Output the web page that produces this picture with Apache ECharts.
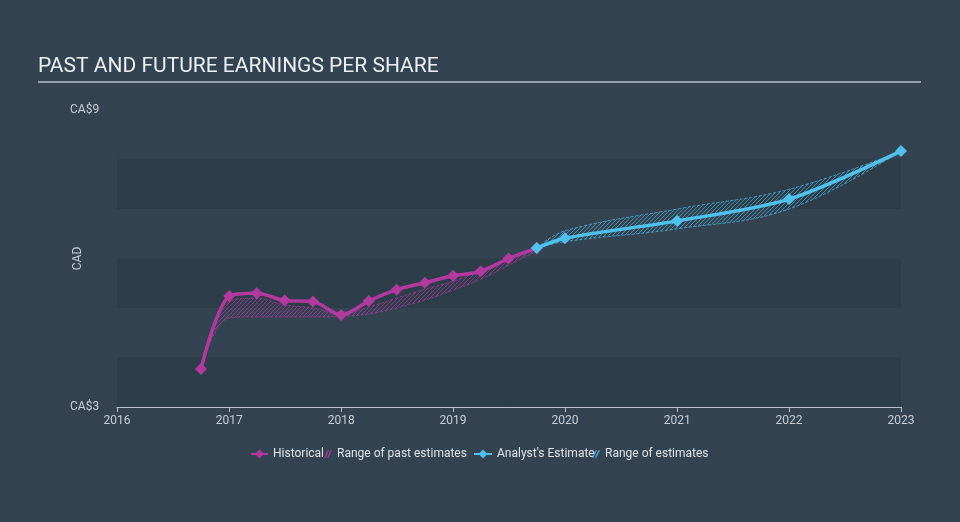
<!DOCTYPE html>
<html>
<head>
<meta charset="utf-8">
<script src="https://cdn.jsdelivr.net/npm/echarts@6/dist/echarts.min.js"></script>
<style>
html,body{margin:0;padding:0;background:#344352;}
#chart{width:960px;height:522px;}
</style>
</head>
<body>
<div id="chart"></div>
<script>
// ---- data ----
const histYears = [2016.75, 2017, 2017.25, 2017.5, 2017.75, 2018, 2018.25, 2018.5, 2018.75, 2019, 2019.25, 2019.5, 2019.75];
const histEPS   = [3.77, 5.24, 5.30, 5.15, 5.13, 4.86, 5.14, 5.37, 5.51, 5.65, 5.74, 6.00, 6.21];
const pastLow   = [3.77, 4.80, 4.82, 4.82, 4.82, 4.83, 4.88, 5.00, 5.16, 5.36, 5.58, 5.86, 6.15];
const pastHigh  = [3.77, 5.14, 5.20, 5.06, 5.00, 4.88, 5.02, 5.20, 5.38, 5.54, 5.76, 6.00, 6.21];

const estYears  = [2019.75, 2020, 2021, 2022, 2023];
const estEPS    = [6.21, 6.41, 6.76, 7.20, 8.17];
const estLow    = [6.21, 6.34, 6.60, 7.00, 8.17];
const estHigh   = [6.21, 6.56, 7.00, 7.40, 8.17];

const xTicks = [2016, 2017, 2018, 2019, 2020, 2021, 2022, 2023];
const yMin = 3, yMax = 9;

// ---- helpers ----
// decimal year -> timestamp (quarter precision)
const toTime = y => new Date(Math.floor(y), Math.round((y - Math.floor(y)) * 12), 1).getTime();
function hatch(color) {
  const c = document.createElement('canvas');
  c.width = 4; c.height = 4;
  const g = c.getContext('2d');
  g.strokeStyle = color; g.lineWidth = 1;
  g.beginPath();
  g.moveTo(0, 4); g.lineTo(4, 0);
  g.moveTo(-1, 1); g.lineTo(1, -1);
  g.moveTo(3, 5); g.lineTo(5, 3);
  g.stroke();
  return { image: c, repeat: 'repeat' };
}
const MAG = '#b3399e', BLUE = '#50c1ea';
const hatchIcon = 'path://M0,10L5,0L7,0L2,10Z M4,10L9,0L11,0L6,10Z';

const zip = (xs, ys) => xs.map((x, i) => [toTime(x), ys[i]]);
const diff = (xs, hi, lo) => xs.map((x, i) => [toTime(x), +(hi[i] - lo[i]).toFixed(3)]);

const chart = echarts.init(document.getElementById('chart'));
const txt = '#c9ced4';
const YEAR = 365.25 * 24 * 3600 * 1000;
const legendBase = { top: 448, padding: 0, itemHeight: 11, itemGap: 4, textStyle: { color: '#e0e3e6', fontSize: 12, fontFamily: 'Roboto' } };

chart.setOption({
  backgroundColor: '#344352',
  animation: false,
  title: {
    text: 'PAST AND FUTURE EARNINGS PER SHARE',
    left: 38, top: 56, padding: 0,
    textStyle: { color: '#eceff1', fontSize: 21, fontWeight: 'normal', fontFamily: 'Roboto' }
  },
  graphic: [{
    type: 'line', shape: { x1: 38, y1: 82, x2: 921, y2: 82 },
    style: { stroke: '#b7bec6', lineWidth: 1.5 }
  }],
  legend: [
    Object.assign({ left: 250, itemWidth: 17, data: ['Historical'] }, legendBase),
    Object.assign({ left: 324, itemWidth: 8, data: [{ name: 'Range of past estimates', icon: hatchIcon }] }, legendBase),
    Object.assign({ left: 473, itemWidth: 18, data: ['Analyst\'s Estimate'] }, legendBase),
    Object.assign({ left: 592, itemWidth: 8, data: [{ name: 'Range of estimates', icon: hatchIcon }] }, legendBase)
  ],
  grid: { left: 117, right: 59, top: 110, bottom: 115 },
  xAxis: {
    type: 'time', min: toTime(xTicks[0]), max: toTime(xTicks[xTicks.length - 1]),
    minInterval: YEAR * 0.99, maxInterval: YEAR * 1.01,
    axisLine: { lineStyle: { color: '#b7c2cc', width: 1 } },
    axisTick: { show: true, length: 5, lineStyle: { color: '#b7c2cc' } },
    axisLabel: {
      color: txt, fontSize: 12, fontFamily: 'Roboto', margin: 8,
      showMinLabel: true, showMaxLabel: true,
      formatter: v => String(new Date(v).getFullYear())
    },
    splitLine: { show: false }
  },
  yAxis: {
    type: 'value', min: yMin, max: yMax, interval: 1,
    name: 'CAD', nameLocation: 'middle', nameGap: 33, nameRotate: 90, nameMoveOverlap: false,
    nameTextStyle: { color: txt, fontSize: 12, fontFamily: 'Roboto' },
    axisLine: { show: false }, axisTick: { show: false },
    axisLabel: {
      color: txt, fontSize: 12, fontFamily: 'Roboto', align: 'left', margin: 47,
      formatter: v => (v === yMin || v === yMax) ? 'CA$' + v : ''
    },
    splitLine: { show: false },
    splitArea: { show: true, areaStyle: { color: ['rgba(20,30,40,0.16)', 'rgba(0,0,0,0)'] } }
  },
  series: [
    {
      name: 'pastLow', type: 'line', stack: 'past', smooth: 0.4, symbol: 'none', silent: true,
      data: zip(histYears, pastLow),
      lineStyle: { color: MAG, width: 0.8, type: 'dashed', opacity: 0.8 }
    },
    {
      name: 'Range of past estimates', type: 'line', stack: 'past', smooth: 0.4, symbol: 'none', silent: true,
      data: diff(histYears, pastHigh, pastLow),
      itemStyle: { color: '#a23d97' },
      lineStyle: { color: MAG, width: 0.8, type: 'dashed', opacity: 0.8 },
      areaStyle: { color: hatch('rgba(179,57,158,0.7)'), opacity: 1 }
    },
    {
      name: 'estLow', type: 'line', stack: 'est', smooth: 0.4, symbol: 'none', silent: true,
      data: zip(estYears, estLow),
      lineStyle: { color: BLUE, width: 0.8, type: 'dashed', opacity: 0.8 }
    },
    {
      name: 'Range of estimates', type: 'line', stack: 'est', smooth: 0.4, symbol: 'none', silent: true,
      data: diff(estYears, estHigh, estLow),
      itemStyle: { color: '#4aaed6' },
      lineStyle: { color: BLUE, width: 0.8, type: 'dashed', opacity: 0.8 },
      areaStyle: { color: hatch('rgba(80,193,234,0.6)'), opacity: 1 }
    },
    {
      name: 'Historical', type: 'line', smooth: 0.3, symbol: 'diamond', symbolSize: 12,
      data: zip(histYears, histEPS),
      itemStyle: { color: MAG }, lineStyle: { color: MAG, width: 3.5 }, z: 5
    },
    {
      name: 'Analyst\'s Estimate', type: 'line', smooth: 0.3, symbol: 'diamond', symbolSize: 12,
      data: zip(estYears, estEPS),
      itemStyle: { color: BLUE }, lineStyle: { color: BLUE, width: 3.5 }, z: 6
    }
  ]
});
</script>
</body>
</html>
